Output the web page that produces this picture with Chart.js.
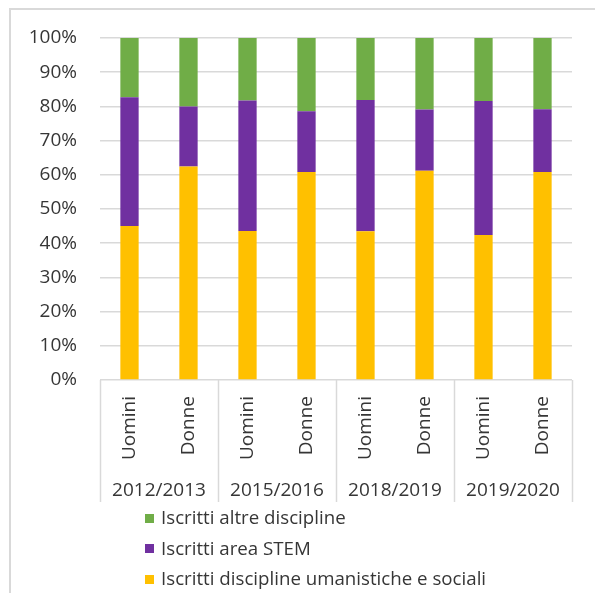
<!DOCTYPE html>
<html>
<head>
<meta charset="utf-8">
<script src="https://cdn.jsdelivr.net/npm/chart.js@4"></script>
<style>
  html, body { margin: 0; padding: 0; background: #fff; }
  #wrap { width: 595px; height: 593px; }
</style>
</head>
<body>
<div id="wrap"><canvas id="chart" width="595" height="593"></canvas></div>
<script>
// categories
const years = ['2012/2013', '2015/2016', '2018/2019', '2019/2020'];
const genders = ['Uomini', 'Donne'];
const barLabels = ['Uomini', 'Donne', 'Uomini', 'Donne', 'Uomini', 'Donne', 'Uomini', 'Donne'];

// series values (% of enrolled)
const umanistiche = [45.0, 62.4, 43.6, 60.8, 43.5, 61.2, 42.4, 60.8];
const stem = [37.7, 17.6, 38.1, 17.8, 38.4, 17.9, 39.2, 18.4];
const altre = [17.3, 20.0, 18.3, 21.4, 18.1, 20.9, 18.4, 20.8];

// y tick labels
const yTicks = [0, 10, 20, 30, 40, 50, 60, 70, 80, 90, 100];

const FONT = 'Open Sans';
const TEXT = '#363636';
const LINE = '#d9d9d9';

Chart.defaults.font.family = FONT;
Chart.defaults.color = TEXT;

const frame = {
    id: 'frame',
    beforeDraw: (chart) => {
        const { ctx } = chart;
        ctx.save();
        ctx.fillStyle = '#fff';
        ctx.fillRect(0, 0, chart.width, chart.height);
        ctx.strokeStyle = LINE;
        ctx.lineWidth = 2;
        ctx.beginPath();
        ctx.moveTo(10, chart.height);
        ctx.lineTo(10, 9);
        ctx.lineTo(chart.width, 9);
        ctx.stroke();
        ctx.restore();
    }
};

// separators between the year groups, through both label rows
const groupLines = {
    id: 'groupLines',
    afterDraw: (chart) => {
        const { ctx, chartArea } = chart;
        const x = chart.scales.x;
        const x2 = chart.scales.x2;
        const step = x.getPixelForValue(1) - x.getPixelForValue(0);
        ctx.save();
        ctx.strokeStyle = LINE;
        ctx.lineWidth = 1.5;
        ctx.beginPath();
        for (let i = 0; i <= barLabels.length; i += genders.length) {
            const px = Math.round(x.getPixelForValue(0) - step / 2 + i * step) + 0.5;
            ctx.moveTo(px, chartArea.bottom);
            ctx.lineTo(px, x2.bottom);
        }
        ctx.stroke();
        ctx.restore();
    }
};

// vertical legend under the axis
const listLegend = {
    id: 'listLegend',
    afterDraw: (chart) => {
        const { ctx } = chart;
        const sets = chart.data.datasets.slice().reverse();
        const top = chart.scales.x2.bottom + 16;
        ctx.save();
        ctx.font = '18.7px "' + FONT + '"';
        ctx.textBaseline = 'middle';
        sets.forEach((ds, i) => {
            const y = top + i * 30.5;
            ctx.fillStyle = ds.backgroundColor;
            ctx.fillRect(145, Math.round(y - 4.5), 9, 9);
            ctx.fillStyle = TEXT;
            ctx.fillText(ds.label, 161, y + 1);
        });
        ctx.restore();
    }
};

new Chart(document.getElementById('chart'), {
    type: 'bar',
    data: {
        labels: barLabels,
        datasets: [
            { label: 'Iscritti discipline umanistiche e sociali', data: umanistiche, backgroundColor: '#FFC000' },
            { label: 'Iscritti area STEM', data: stem, backgroundColor: '#7030A0' },
            { label: 'Iscritti altre discipline', data: altre, backgroundColor: '#70AD47' }
        ]
    },
    options: {
        responsive: false,
        animation: false,
        layout: { padding: { top: 38, right: 23, bottom: 91, left: 28 } },
        datasets: { bar: { categoryPercentage: 1, barPercentage: 0.31 } },
        plugins: {
            legend: { display: false },
            tooltip: { enabled: false }
        },
        scales: {
            x: {
                stacked: true,
                grid: { display: false },
                border: { display: false },
                ticks: {
                    autoSkip: false,
                    minRotation: 90,
                    maxRotation: 90,
                    padding: 8,
                    font: { size: 19 }
                },
                afterFit: (s) => { s.height = 90; }
            },
            x2: {
                type: 'category',
                labels: years,
                position: 'bottom',
                weight: 1,
                offset: true,
                grid: { display: false },
                border: { display: false },
                ticks: { padding: 1, font: { size: 19 } },
                afterFit: (s) => { s.height = 32; }
            },
            y: {
                stacked: true,
                min: 0,
                max: 100,
                afterBuildTicks: (s) => { s.ticks = yTicks.map(v => ({ value: v })); },
                grid: { color: LINE, lineWidth: 1.5, drawTicks: false },
                border: { display: false },
                ticks: {
                    padding: 23,
                    font: { size: 19 },
                    callback: (v) => v + '%'
                },
                afterFit: (s) => { s.width = 72; }
            }
        }
    },
    plugins: [frame, groupLines, listLegend]
});
</script>
</body>
</html>
